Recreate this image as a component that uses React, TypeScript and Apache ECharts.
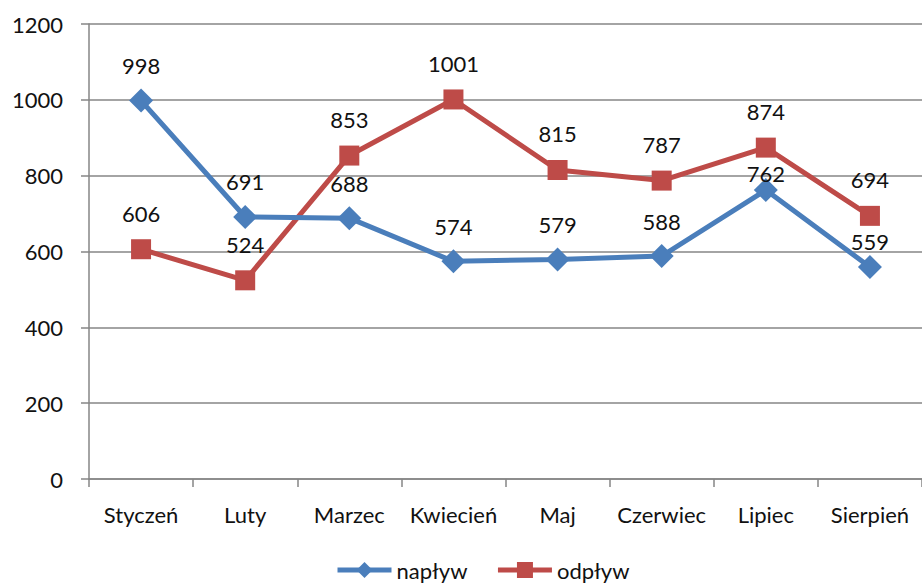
import React, { useEffect, useRef } from "react";
import * as echarts from "echarts";

const categories = ["Styczeń", "Luty", "Marzec", "Kwiecień", "Maj", "Czerwiec", "Lipiec", "Sierpień"];
const naplyw = [998, 691, 688, 574, 579, 588, 762, 559];
const odplyw = [606, 524, 853, 1001, 815, 787, 874, 694];
const yTicks = { min: 0, max: 1200, interval: 200 };

const FONT = "Lato";
const TEXT = "#111111";
const GRID = "#868686";

export default function App() {
  const ref = useRef<HTMLDivElement>(null);
  useEffect(() => {
    if (!ref.current) return;
    const chart = echarts.init(ref.current, undefined, { renderer: "svg" });
    const blueDist = [12, 12, 12, 12, 12, 12, -6, 3];
    const labelBase = { show: true, position: "top", fontFamily: FONT, fontSize: 22, color: TEXT };
    chart.setOption({
      animation: false,
      textStyle: { fontFamily: FONT },
      grid: { left: 89, top: 24, width: 836, height: 455, containLabel: false },
      xAxis: {
        type: "category",
        data: categories,
        boundaryGap: true,
        axisLine: { show: true, lineStyle: { color: GRID, width: 1.5 } },
        axisTick: { show: true, interval: 0, length: 8, lineStyle: { color: GRID, width: 1.5 } },
        axisLabel: { interval: 0, margin: 24, fontFamily: FONT, fontSize: 22, color: TEXT },
      },
      yAxis: {
        type: "value",
        min: yTicks.min,
        max: yTicks.max,
        interval: yTicks.interval,
        axisLine: { show: true, lineStyle: { color: GRID, width: 1.5 } },
        axisTick: { show: true, length: 8, lineStyle: { color: GRID, width: 1.5 } },
        axisLabel: { margin: 26, fontFamily: FONT, fontSize: 22, color: TEXT, formatter: (v: number) => String(v) },
        splitLine: { show: true, lineStyle: { color: GRID, width: 1.5 } },
      },
      legend: {
        bottom: 2,
        left: 330,
        itemWidth: 54,
        itemHeight: 20,
        itemGap: 28,
        lineStyle: { width: 5 },
        textStyle: { fontFamily: FONT, fontSize: 22, color: TEXT },
        data: ["napływ", "odpływ"],
      },
      series: [
        {
          name: "napływ",
          type: "line",
          data: naplyw.map((v, i) => ({ value: v, label: { distance: blueDist[i] } })),
          symbol: "diamond",
          symbolSize: 24,
          lineStyle: { color: "#4A7EBB", width: 5 },
          itemStyle: { color: "#4A7EBB" },
          label: { ...labelBase },
          z: 3,
        },
        {
          name: "odpływ",
          type: "line",
          data: odplyw,
          symbol: "rect",
          symbolSize: 20,
          lineStyle: { color: "#BE4B48", width: 5 },
          itemStyle: { color: "#BE4B48" },
          label: { ...labelBase, distance: 15 },
          z: 2,
        },
      ],
    });
    return () => chart.dispose();
  }, []);
  return <div ref={ref} style={{ position: "fixed", left: 0, top: 0, width: 922, height: 588, background: "#fff" }} />;
}
